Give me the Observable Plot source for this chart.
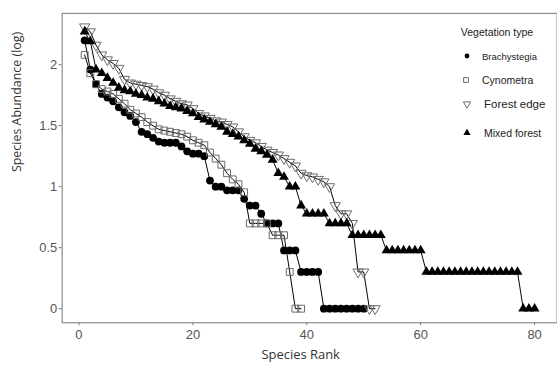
<!DOCTYPE html>
<html>
<head>
<meta charset="utf-8">
<script src="https://cdn.jsdelivr.net/npm/d3@7"></script>
<script src="https://cdn.jsdelivr.net/npm/@observablehq/plot@0.6"></script>
<style>
  html, body { margin: 0; padding: 0; background: #fff; overflow: hidden; }
  #wrap { position: relative; width: 557px; height: 367px; overflow: hidden; }
  #legend { position: absolute; left: 0; top: 0; pointer-events: none; }
</style>
</head>
<body>
<div id="wrap"><div id="chart"></div><svg id="legend" width="557" height="367"></svg></div>
<script>
// Rank-abundance curves (log10 abundance by species rank) for four vegetation types
const vegetationTypes = ["Brachystegia", "Cynometra", "Forest edge", "Mixed forest"];

const brachystegia = [
  2.20, 1.96, 1.84, 1.76, 1.73, 1.70, 1.65, 1.61, 1.58, 1.53,
  1.45, 1.43, 1.40, 1.37, 1.36, 1.36, 1.36, 1.33, 1.29, 1.27,
  1.27, 1.25, 1.05, 1.00, 1.00, 0.97, 0.97, 0.97, 0.90, 0.845,
  0.845, 0.778, 0.699, 0.699, 0.699, 0.477, 0.477, 0.477, 0.301, 0.301,
  0.301, 0.301, 0, 0, 0, 0, 0, 0, 0, 0
];

const cynometra = [
  2.08, 1.93, 1.84, 1.80, 1.78, 1.76, 1.72, 1.68, 1.63, 1.60,
  1.57, 1.53, 1.50, 1.47, 1.46, 1.45, 1.44, 1.43, 1.41, 1.38,
  1.36, 1.34, 1.28, 1.23, 1.18, 1.11, 1.06, 1.02, 0.954, 0.699,
  0.699, 0.699, 0.699, 0.602, 0.602, 0.602, 0.301, 0, 0
];

const forestEdge = [
  2.31, 2.27, 2.16, 2.08, 2.04, 2.01, 1.97, 1.88, 1.85, 1.84,
  1.83, 1.82, 1.80, 1.77, 1.75, 1.72, 1.70, 1.68, 1.67, 1.64,
  1.60, 1.58, 1.56, 1.54, 1.53, 1.51, 1.49, 1.45, 1.41, 1.38,
  1.36, 1.33, 1.30, 1.28, 1.26, 1.23, 1.20, 1.17, 1.11, 1.09,
  1.08, 1.06, 1.04, 1.00, 0.845, 0.778, 0.778, 0.699, 0.301, 0.301,
  0, 0
];

const mixedForest = [
  2.27, 2.19, 1.96, 1.93, 1.89, 1.85, 1.81, 1.79, 1.78, 1.76,
  1.75, 1.73, 1.72, 1.70, 1.68, 1.66, 1.65, 1.64, 1.62, 1.60,
  1.57, 1.55, 1.53, 1.51, 1.49, 1.45, 1.43, 1.41, 1.38, 1.35,
  1.31, 1.29, 1.26, 1.22, 1.11, 1.08, 1.00, 1.00, 0.845, 0.778,
  0.778, 0.778, 0.778, 0.699, 0.699, 0.699, 0.699, 0.602, 0.602, 0.602,
  0.602, 0.602, 0.602, 0.477, 0.477, 0.477, 0.477, 0.477, 0.477, 0.477,
  0.301, 0.301, 0.301, 0.301, 0.301, 0.301, 0.301, 0.301, 0.301, 0.301,
  0.301, 0.301, 0.301, 0.301, 0.301, 0.301, 0.301, 0, 0, 0
];

const xTicks = [0, 20, 40, 60, 80];
const yTicks = [0, 0.5, 1, 1.5, 2];

const seriesValues = [brachystegia, cynometra, forestEdge, mixedForest];
const rows = vegetationTypes.flatMap((type, k) =>
  seriesValues[k].map((value, i) => ({type, rank: i + 1, value}))
);
const of = type => rows.filter(d => d.type === type);

// marker styling per vegetation type
const styles = {
  "Brachystegia": {symbol: "circle", r: 3.9, fill: "#000", stroke: "none", rotate: 0},
  "Cynometra": {symbol: "square", r: 3.9, fill: "none", stroke: "#6b6b6b", rotate: 0},
  "Forest edge": {symbol: "triangle", r: 3.8, fill: "none", stroke: "#6b6b6b", rotate: 180},
  "Mixed forest": {symbol: "triangle", r: 3.7, fill: "#000", stroke: "none", rotate: 0}
};

const tickFont = "'Liberation Sans', Arial, sans-serif";
const titleFont = "'Open Sans', 'DejaVu Sans', sans-serif";

const chart = Plot.plot({
  width: 560,
  height: 367,
  marginLeft: 62,
  marginRight: 0.4,
  marginTop: 13,
  marginBottom: 43,
  style: {background: "#fff", fontFamily: tickFont},
  x: {domain: [-2.95, 83.95]},
  y: {domain: [-0.1155, 2.42]},
  marks: [
    Plot.axisX({ticks: xTicks, tickSize: 3, tickPadding: 4, fontSize: 13, color: "#555", stroke: "#777", label: null}),
    Plot.axisY({ticks: yTicks, tickSize: 3, tickPadding: 2, fontSize: 13, color: "#555", stroke: "#777", label: null, tickFormat: d3.format("~g")}),
    Plot.line(rows, {x: "rank", y: "value", z: "type", stroke: "#000", strokeWidth: 1}),
    ...vegetationTypes.map(t => Plot.dot(of(t), {
      x: "rank", y: "value",
      symbol: styles[t].symbol, r: styles[t].r,
      fill: styles[t].fill, stroke: styles[t].stroke, strokeWidth: 1,
      rotate: styles[t].rotate
    })),
    Plot.frame({stroke: "#8c8c8c", strokeWidth: 1.2}),
    Plot.text(["Species Rank"], {frameAnchor: "bottom", text: d => d, dx: -9, dy: 36, fontSize: 13, fill: "#333", fontFamily: titleFont}),
    Plot.text(["Species Abundance (log)"], {frameAnchor: "left", text: d => d, rotate: -90, dx: -45, dy: 4, fontSize: 12.5, fill: "#333", fontFamily: titleFont})
  ]
});
document.getElementById("chart").appendChild(chart);

// legend inside the panel, top right
const lg = d3.select("#legend");
lg.append("text").attr("x", 497).attr("y", 36).attr("text-anchor", "middle")
  .attr("font-family", tickFont).attr("font-size", 10.5).attr("fill", "#222").text("Vegetation type");
const legendRows = [
  {y: 60, size: 9.5, sx: 467, tx: 482},
  {y: 84, size: 10.5, sx: 466, tx: 482},
  {y: 108, size: 11.5, sx: 467, tx: 484},
  {y: 137, size: 10.5, sx: 467, tx: 484}
];
const symbolFor = {circle: d3.symbolCircle, square: d3.symbolSquare, triangle: d3.symbolTriangle};
vegetationTypes.forEach((t, i) => {
  const row = legendRows[i], s = styles[t];
  const r = s.symbol === "circle" ? 2.4 : 2.7;
  lg.append("path")
    .attr("d", d3.symbol(symbolFor[s.symbol], Math.PI * r * r)())
    .attr("transform", `translate(${row.sx},${row.y - 4}) rotate(${s.rotate})`)
    .attr("fill", s.fill).attr("stroke", s.stroke).attr("stroke-width", 1);
  lg.append("text").attr("x", row.tx).attr("y", row.y)
    .attr("font-family", tickFont).attr("font-size", row.size).attr("fill", "#222").text(t);
});
</script>
</body>
</html>
